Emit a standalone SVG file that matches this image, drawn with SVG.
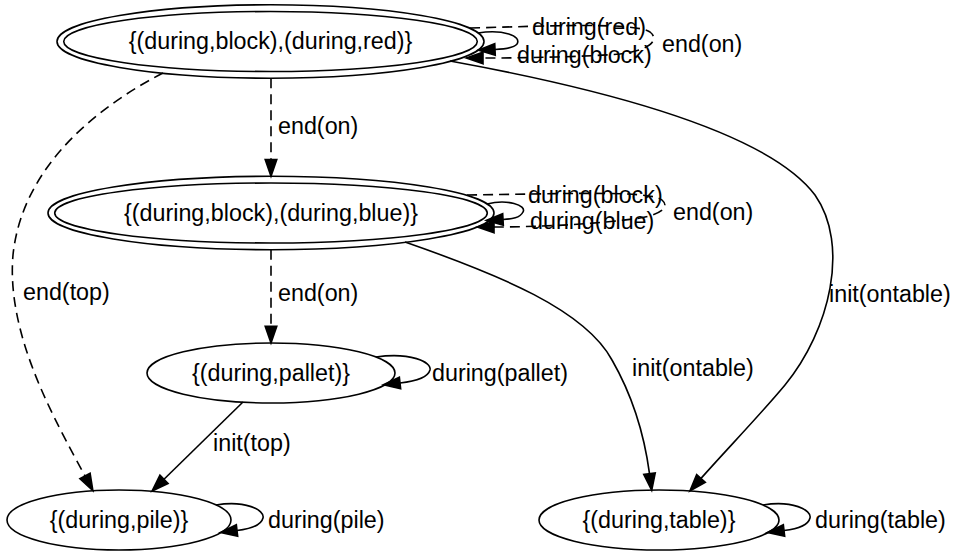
<svg xmlns="http://www.w3.org/2000/svg" width="955" height="555" viewBox="0 0 955 555">
<style>
  text { font-family: "Liberation Sans", Arial, Helvetica, sans-serif; font-size: 23.3px; fill: #000; }
  .node text { text-anchor: middle; }
  ellipse { fill: none; stroke: #000; stroke-width: 1.6; }
  .edge path { fill: none; stroke: #000; stroke-width: 1.6; marker-end: url(#arrow); }
  .edge path.dashed { stroke-dasharray: 10,6; }
</style>
<defs>
  <marker id="arrow" markerUnits="userSpaceOnUse" markerWidth="22" markerHeight="16" refX="0" refY="0" viewBox="-1 -8 20 16" orient="auto" overflow="visible">
    <path d="M0,-5.8 L16.7,0 L0,5.8 Z" fill="#000" stroke="#000" stroke-width="1.6" stroke-dasharray="none"/>
  </marker>
</defs>
<rect width="955" height="555" fill="#fff"/>
<g id="connectors" class="edge">
  <path class="dashed" d="M271,78.2 L271,159.6"/>
  <path class="dashed" d="M271,249.7 L271,326.3"/>
  <path d="M243,402 L164,479.3"/>
  <path class="dashed" d="M163,73 C95,108 22,168 13,255 C6,335 55,420 85,476"/>
  <path d="M450,61 C620,92 770,135 815,195 C850,245 830,330 785,385 C760,415 728,448 701,478.4"/>
  <path d="M405,242 C500,275 585,310 612,360 C635,400 645,440 649.5,473.7"/>
  <path d="M478,33 C503,29 522,36 517,44 C514,48 506,49 495,49.5"/>
  <path class="dashed" d="M470,28 C550,26 635,22 650,32 C660,40 650,50 620,54 C580,57 520,58 483,58"/>
  <path d="M487,204 C507,199 527,205 523,212 C520,218 512,219 503,219.5"/>
  <path class="dashed" d="M467,195 C560,194 650,190 662,200 C670,207 662,214 640,218 C600,224 540,227 494,227"/>
  <path d="M376,357 C410,352 432,362 430,370 C428,377 418,381 400,383"/>
  <path d="M216,505 C245,500 265,510 263,518 C261,526 250,529 237,530.5"/>
  <path d="M763,505 C792,500 812,510 810,518 C808,526 797,529 784,530.5"/>
  <text x="278" y="134">end(on)</text>
  <text x="278" y="301">end(on)</text>
  <text x="23" y="300">end(top)</text>
  <text x="829" y="302">init(ontable)</text>
  <text x="632" y="376">init(ontable)</text>
  <text x="213" y="451">init(top)</text>
  <text x="532" y="35">during(red)</text>
  <text x="517" y="63">during(block)</text>
  <text x="662" y="52">end(on)</text>
  <text x="528" y="203">during(block)</text>
  <text x="530" y="229">during(blue)</text>
  <text x="673" y="220">end(on)</text>
  <text x="432" y="381">during(pallet)</text>
  <text x="268" y="528">during(pile)</text>
  <text x="815" y="528">during(table)</text>
</g>
<g id="n1" class="node">
  <ellipse cx="270.5" cy="41.5" rx="213.5" ry="36.7"/>
  <ellipse cx="270.5" cy="41.5" rx="206.8" ry="30"/>
  <text x="270.5" y="49">{(during,block),(during,red)}</text>
</g>
<g id="n2" class="node">
  <ellipse cx="271" cy="213" rx="223" ry="36.7"/>
  <ellipse cx="271" cy="213" rx="216.3" ry="30"/>
  <text x="271" y="220.5">{(during,block),(during,blue)}</text>
</g>
<g id="n3" class="node">
  <ellipse cx="271" cy="373" rx="124" ry="30"/>
  <text x="271" y="380.5">{(during,pallet)}</text>
</g>
<g id="n4" class="node">
  <ellipse cx="119" cy="520" rx="112" ry="30"/>
  <text x="119" y="527.5">{(during,pile)}</text>
</g>
<g id="n5" class="node">
  <ellipse cx="659" cy="520" rx="120" ry="30"/>
  <text x="659" y="527.5">{(during,table)}</text>
</g>
</svg>
